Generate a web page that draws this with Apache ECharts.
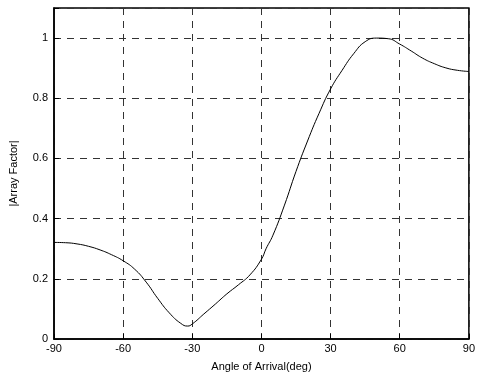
<!DOCTYPE html>
<html>
<head>
<meta charset="utf-8">
<script src="https://cdn.jsdelivr.net/npm/echarts@6/dist/echarts.min.js"></script>
<style>
  html, body { margin: 0; padding: 0; background: #fff; }
  #chart { width: 478px; height: 378px; }
</style>
</head>
<body>
<div id="chart"></div>
<script>
// Array factor magnitude versus angle of arrival
const angles = [-90, -85, -80, -75, -70, -65, -60, -55, -50, -45, -40, -35, -32, -30, -25, -20, -15, -10, -5, 0, 2, 5, 10, 15, 20, 25, 30, 35, 40, 45, 50, 55, 60, 65, 70, 75, 80, 85, 90];
const arrayFactor = [0.321, 0.320, 0.316, 0.308, 0.296, 0.280, 0.260, 0.232, 0.189, 0.135, 0.087, 0.052, 0.043, 0.050, 0.083, 0.116, 0.150, 0.180, 0.213, 0.265, 0.300, 0.345, 0.445, 0.557, 0.658, 0.750, 0.831, 0.893, 0.948, 0.988, 1.000, 0.998, 0.980, 0.957, 0.933, 0.915, 0.901, 0.893, 0.889];
const xTicks = [-90, -60, -30, 0, 30, 60, 90];
const yTicks = [0, 0.2, 0.4, 0.6, 0.8, 1];

const font = '"Liberation Sans", Arial, sans-serif';
const chart = echarts.init(document.getElementById('chart'), null, { renderer: 'canvas' });

chart.setOption({
  animation: false,
  backgroundColor: '#fff',
  grid: {
    left: 51, right: 5, top: 8, bottom: 39,
    show: true, borderColor: '#000', borderWidth: 1.5, backgroundColor: 'transparent'
  },
  xAxis: {
    type: 'value',
    min: xTicks[0], max: xTicks[xTicks.length - 1],
    interval: xTicks[1] - xTicks[0],
    name: 'Angle of Arrival(deg)',
    nameLocation: 'middle',
    nameGap: 22,
    nameTextStyle: { color: '#000', fontFamily: font, fontSize: 11 },
    axisLine: { show: true, onZero: false, lineStyle: { color: '#000', width: 1.5 } },
    axisTick: { show: true, inside: true, length: 5, lineStyle: { color: '#000' } },
    axisLabel: { color: '#000', fontFamily: font, fontSize: 11, margin: 4 },
    splitLine: { show: true, lineStyle: { color: '#333', width: 1, type: [7, 6] } }
  },
  yAxis: {
    type: 'value',
    min: 0, max: 1.1,
    interval: yTicks[1] - yTicks[0],
    name: '|Array Factor|',
    nameLocation: 'middle',
    nameGap: 35,
    nameRotate: 90,
    nameTextStyle: { color: '#000', fontFamily: font, fontSize: 11 },
    axisLine: { show: true, onZero: false, lineStyle: { color: '#000', width: 1.5 } },
    axisTick: { show: true, inside: true, length: 5, lineStyle: { color: '#000' } },
    axisLabel: {
      color: '#000', fontFamily: font, fontSize: 11, margin: 6,
      formatter: v => (v > yTicks[yTicks.length - 1] + 0.01 ? '' : String(+v.toFixed(1)))
    },
    splitLine: { show: true, lineStyle: { color: '#333', width: 1, type: [7, 6] } }
  },
  series: [{
    type: 'line',
    data: angles.map((a, i) => [a, arrayFactor[i]]),
    smooth: 0.5,
    showSymbol: false,
    lineStyle: { color: '#000', width: 1 }
  }]
});
</script>
</body>
</html>
